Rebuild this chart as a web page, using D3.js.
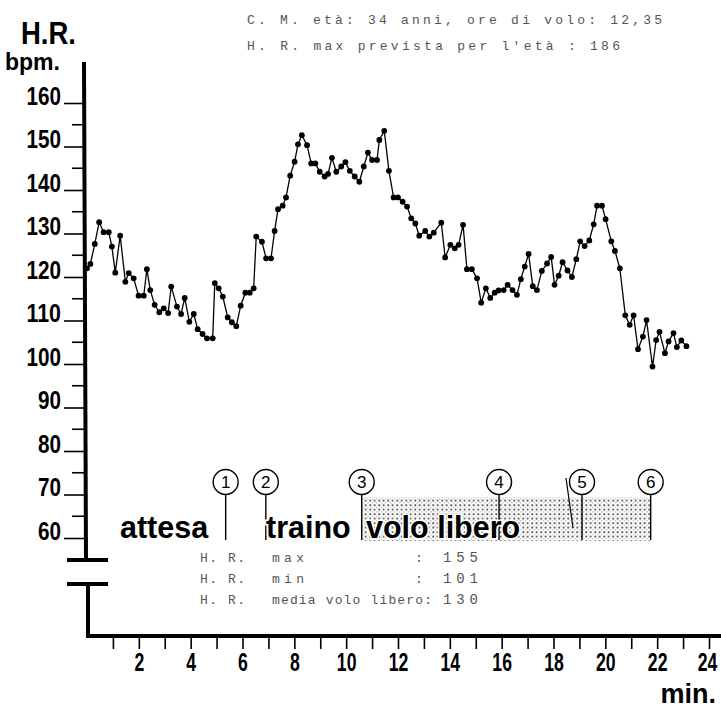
<!DOCTYPE html>
<html>
<head>
  <meta charset="utf-8">
  <title>H.R. durante il volo</title>
  <script src="https://d3js.org/d3.v7.min.js"></script>
  <style>
    body { margin: 0; background: #fff; }
    .big { font-family: "Liberation Sans", Arial, sans-serif; font-weight: bold; }
    .head { font-family: "Liberation Sans", Arial, sans-serif; font-weight: bold; }
    .typed { font-family: "Liberation Mono", "DejaVu Sans Mono", monospace; fill: #555; }
  </style>
</head>
<body>
  <svg width="721" height="709"></svg>
  <script>
    // heart rate readings (minutes from start, beats per minute)
    const minutes = [
      0, 0.13, 0.30, 0.47, 0.64, 0.84, 0.96, 1.09, 1.28, 1.48,
      1.61, 1.80, 1.99, 2.19, 2.31, 2.44, 2.61, 2.79, 2.96, 3.13,
      3.25, 3.47, 3.63, 3.77, 3.95, 4.12, 4.27, 4.46, 4.63, 4.85,
      4.93, 5.08, 5.24, 5.43, 5.59, 5.76, 5.93, 6.11, 6.28, 6.43,
      6.53, 6.75, 6.91, 7.10, 7.24, 7.37, 7.55, 7.68, 7.84, 8.01,
      8.14, 8.29, 8.49, 8.65, 8.81, 8.98, 9.17, 9.30, 9.45, 9.62,
      9.81, 9.97, 10.14, 10.33, 10.51, 10.68, 10.84, 11.00, 11.19, 11.28,
      11.47, 11.65, 11.83, 12.00, 12.18, 12.35, 12.51, 12.67, 12.82, 13.05,
      13.21, 13.38, 13.67, 13.82, 14.02, 14.19, 14.34, 14.51, 14.66, 14.85,
      15.05, 15.21, 15.39, 15.56, 15.73, 15.88, 16.08, 16.23, 16.42, 16.59,
      16.74, 16.89, 17.04, 17.20, 17.36, 17.55, 17.75, 17.91, 18.04, 18.20,
      18.35, 18.54, 18.71, 18.88, 19.03, 19.20, 19.38, 19.55, 19.68, 19.87,
      20.01, 20.23, 20.37, 20.56, 20.77, 20.94, 21.09, 21.26, 21.45, 21.59,
      21.82, 21.96, 22.09, 22.30, 22.44, 22.63, 22.76, 22.93, 23.13
    ];
    const bpm = [
      122.0, 123.0, 127.6, 132.6, 130.3, 130.3, 127.0, 121.0, 129.5, 118.9,
      120.9, 119.7, 115.7, 115.7, 121.8, 117.0, 113.6, 111.9, 112.8, 111.7,
      117.8, 113.2, 111.5, 115.2, 109.7, 111.5, 108.0, 106.9, 105.9, 105.9,
      118.6, 117.4, 115.5, 110.7, 109.6, 108.7, 113.4, 116.4, 116.4, 117.4,
      129.3, 128.1, 124.3, 124.3, 130.6, 135.6, 136.4, 138.3, 143.3, 146.5,
      150.5, 152.6, 150.3, 146.1, 146.1, 144.2, 143.1, 143.7, 147.4, 144.2,
      145.4, 146.4, 144.4, 143.1, 141.9, 145.4, 148.6, 146.9, 146.9, 151.5,
      153.6, 144.4, 138.3, 138.3, 137.3, 136.2, 133.5, 132.3, 129.5, 130.6,
      129.3, 130.2, 132.5, 124.5, 127.4, 126.6, 127.4, 132.0, 121.8, 121.8,
      119.7, 114.1, 117.4, 115.2, 116.4, 116.9, 117.0, 118.2, 117.0, 115.9,
      119.5, 122.4, 125.3, 117.9, 117.0, 121.4, 123.1, 124.6, 118.2, 120.3,
      123.4, 121.5, 120.0, 124.1, 128.2, 127.1, 128.4, 132.1, 136.4, 136.4,
      133.3, 128.2, 126.0, 122.0, 111.2, 109.0, 111.2, 103.4, 106.3, 110.1,
      99.4, 105.5, 107.4, 102.5, 105.2, 107.1, 103.9, 105.4, 104.1
    ];

    // tick labels
    const yTicks = d3.range(60, 161, 10);
    const yHalfTicks = d3.range(65, 160, 10);
    const xTicks = d3.range(1, 25);

    // numbered events (minutes) and flight phases
    const eventTimes = [5.35, 6.9, 10.6, 15.9, 19.1, 21.75];
    const eventLabels = ["1", "2", "3", "4", "5", "6"];
    const phases = ["attesa", "traino", "volo libero"];

    // texts typed on the sheet
    const headerLines = ["C. M. età: 34 anni, ore di volo: 12,35", "H. R. max prevista per l'età : 186"];
    const statNames = ["max", "min", "media volo libero:"];
    const statValues = [155, 101, 130];

    const svg = d3.select("svg");
    const x = d3.scaleLinear().domain([0, 24]).range([87, 709]);
    const y = d3.scaleLinear().domain([60, 160]).range([538, 103]);

    // narrow digits like the original lettering
    const narrow = w => sel => sel
      .attr("textLength", function () { return this.textContent.length * w; })
      .attr("lengthAdjust", "spacingAndGlyphs");

    // stipple for the free flight band
    const pat = svg.append("defs").append("pattern")
      .attr("id", "dots").attr("width", 4.5).attr("height", 4.5)
      .attr("patternUnits", "userSpaceOnUse");
    pat.append("circle").attr("cx", 1.2).attr("cy", 1.2).attr("r", 1).attr("fill", "#333");
    pat.append("circle").attr("cx", 3.45).attr("cy", 3.45).attr("r", 0.6).attr("fill", "#777");

    // title
    svg.append("text").attr("class", "big").attr("x", 21).attr("y", 44)
      .attr("font-size", 32).attr("textLength", 55).attr("lengthAdjust", "spacingAndGlyphs")
      .text("H.R.");
    svg.append("text").attr("class", "head").attr("x", 5).attr("y", 70)
      .attr("font-size", 23).text("bpm.");

    headerLines.forEach((s, i) => {
      svg.append("text").attr("class", "typed").attr("x", 247).attr("y", 24 + i * 26)
        .attr("font-size", 13).attr("textLength", i === 0 ? 415 : 373)
        .attr("lengthAdjust", "spacing").text(s);
    });

    // y axis
    const yAxis = svg.append("g").attr("transform", "translate(84,0)")
      .call(d3.axisLeft(y).tickValues(yTicks).tickSize(20).tickPadding(3));
    yAxis.select(".domain").remove();
    yAxis.selectAll(".tick line").attr("stroke-width", 1.6);
    yAxis.selectAll(".tick text").attr("class", "big").attr("font-size", 25)
      .attr("dy", "0.05em").attr("fill", "#000").call(narrow(11.5));
    svg.append("g").selectAll("line").data(yHalfTicks).join("line")
      .attr("x1", 72).attr("x2", 84).attr("y1", d => y(d)).attr("y2", d => y(d))
      .attr("stroke", "#000").attr("stroke-width", 1.6);
    svg.append("line").attr("x1", 84).attr("x2", 86).attr("y1", 62).attr("y2", 560)
      .attr("stroke", "#000").attr("stroke-width", 4);

    // axis break
    svg.append("line").attr("x1", 67).attr("x2", 108).attr("y1", 560).attr("y2", 560)
      .attr("stroke", "#000").attr("stroke-width", 4);
    svg.append("line").attr("x1", 67).attr("x2", 108).attr("y1", 584).attr("y2", 584)
      .attr("stroke", "#000").attr("stroke-width", 4);
    svg.append("line").attr("x1", 88).attr("x2", 88).attr("y1", 584).attr("y2", 636)
      .attr("stroke", "#000").attr("stroke-width", 4);

    // x axis
    const xAxis = svg.append("g").attr("transform", "translate(0,636)")
      .call(d3.axisBottom(x).tickValues(xTicks).tickSize(13).tickPadding(4)
        .tickFormat(d => d % 2 === 0 ? d : ""));
    xAxis.select(".domain").remove();
    xAxis.selectAll(".tick line").attr("stroke-width", 1.6);
    xAxis.selectAll(".tick text").attr("class", "big").attr("font-size", 25)
      .attr("fill", "#000").filter(d => d % 2 === 0).call(narrow(9.8));
    xAxis.selectAll(".tick text").filter(d => d === 24).attr("x", -2);
    svg.append("line").attr("x1", 86).attr("x2", 721).attr("y1", 636).attr("y2", 636)
      .attr("stroke", "#000").attr("stroke-width", 4);
    svg.append("text").attr("class", "head").attr("x", 716).attr("y", 703)
      .attr("text-anchor", "end").attr("font-size", 27).text("min.");

    // free flight band between events 3 and 6
    svg.append("rect")
      .attr("x", x(eventTimes[2])).attr("y", 497)
      .attr("width", x(eventTimes[5]) - x(eventTimes[2])).attr("height", 44)
      .attr("fill", "url(#dots)");

    // event markers
    const ev = svg.append("g").selectAll("g").data(eventTimes).join("g")
      .attr("transform", d => `translate(${x(d)},482)`);
    ev.append("line").attr("y1", 12).attr("y2", 58).attr("stroke", "#000").attr("stroke-width", 1.4);
    ev.append("circle").attr("r", 12.5).attr("fill", "#fff").attr("stroke", "#000").attr("stroke-width", 1.4);
    ev.append("text").attr("text-anchor", "middle").attr("dy", "0.36em")
      .attr("font-family", "Liberation Sans, Arial, sans-serif").attr("font-size", 17)
      .text((d, i) => eventLabels[i]);
    svg.append("line").attr("x1", x(eventTimes[4]) - 16).attr("y1", 478)
      .attr("x2", x(eventTimes[4]) - 9).attr("y2", 528)
      .attr("stroke", "#000").attr("stroke-width", 1.2);

    // phase names
    const phaseX = [120, 266, 366];
    phases.forEach((p, i) => {
      svg.append("text").attr("class", "head").attr("x", phaseX[i]).attr("y", 538)
        .attr("font-size", 30.5).attr("stroke", "#fff").attr("stroke-width", 3)
        .attr("paint-order", "stroke").text(p);
    });

    // summary
    statNames.forEach((s, i) => {
      const yy = 562 + i * 21;
      svg.append("text").attr("class", "typed").attr("x", 200).attr("y", yy)
        .attr("font-size", 13).attr("textLength", 45).attr("lengthAdjust", "spacing").text("H. R.");
      svg.append("text").attr("class", "typed").attr("x", 272).attr("y", yy)
        .attr("font-size", 13).attr("textLength", i === 2 ? 160 : 32)
        .attr("lengthAdjust", "spacing").text(s);
      if (i < 2) {
        svg.append("text").attr("class", "typed").attr("x", 415).attr("y", yy)
          .attr("font-size", 13).text(":");
      }
      svg.append("text").attr("class", "typed").attr("x", 443).attr("y", yy)
        .attr("font-size", 14).attr("textLength", 35).attr("lengthAdjust", "spacing")
        .text(statValues[i]);
    });

    // heart rate trace
    const pts = minutes.map((m, i) => ({ m, v: bpm[i] }));
    svg.append("path").datum(pts)
      .attr("fill", "none").attr("stroke", "#000").attr("stroke-width", 1.3)
      .attr("d", d3.line().x(d => x(d.m)).y(d => y(d.v)));
    svg.append("g").selectAll("circle").data(pts).join("circle")
      .attr("cx", d => x(d.m)).attr("cy", d => y(d.v)).attr("r", 2.9).attr("fill", "#000");
  </script>
</body>
</html>
